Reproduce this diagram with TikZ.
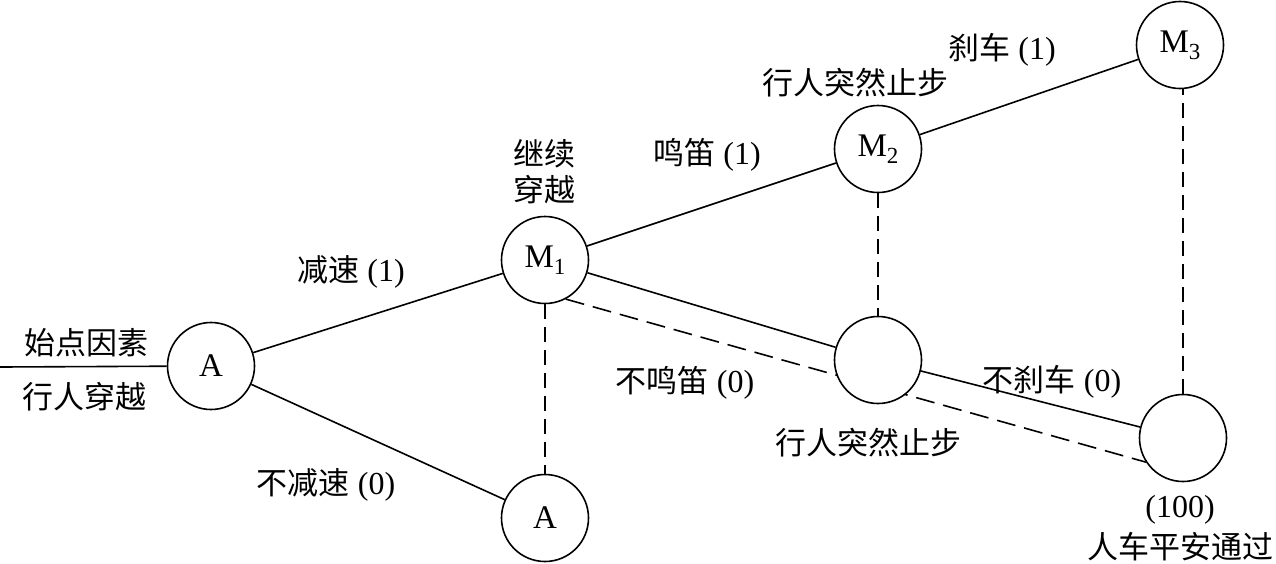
\documentclass[tikz,border=0pt]{standalone}
\usepackage{fontspec}
\setmainfont{Liberation Serif}
\newfontfamily\cjk{Noto Sans CJK SC}
\usetikzlibrary{backgrounds}
\newcommand\myzh[1]{{\fontsize{31}{36}\cjk #1}}
\newcommand\mysub[1]{\raisebox{-0.22em}{\fontsize{23}{23}\selectfont #1}}
\begin{document}
\begin{tikzpicture}[x=1pt,y=-1pt,
  circ/.style={circle, draw, line width=1.6pt, minimum size=87pt, inner sep=0pt, fill=white, font=\fontsize{33}{33}\selectfont},
  txt/.style={font=\fontsize{32}{36}\selectfont, inner sep=0pt, align=center},
  link/.style={line width=1.6pt},
  dlink/.style={line width=1.6pt, dash pattern=on 15pt off 8pt},
  dlong/.style={line width=1.6pt, dash pattern=on 19pt off 9pt}]
\useasboundingbox (0,0) rectangle (1276,563);
% circles
\node[circ] (A1) at (211,366) {A};
\node[circ] (M1) at (545,260) {M\mysub{1}};
\node[circ] (A2) at (545,518) {A};
\node[circ] (M2) at (878,149) {M\mysub{2}};
\node[circ] (N)  at (878,360) {};
\node[circ] (M3) at (1180,45) {M\mysub{3}};
\node[circ] (BR) at (1183,438) {};
\coordinate (start) at (0,367);
% connectors
\begin{scope}[on background layer]
\draw[link] (start) -- (A1);
\draw[link] (A1) -- (M1);
\draw[link] (A1) -- (A2);
\draw[link] (M1) -- (M2);
\draw[link] (M2) -- (M3);
\draw[link] (M1) -- (N);
\draw[link] (N) -- (BR);
\draw[dlong] (M1.-62) -- (BR.213);
\draw[dlink] (M1.south) -- (A2.north);
\draw[dlink] (M2.south) -- (N.north);
\draw[dlink] (BR.north) -- (BR.north |- M3.south);
\end{scope}
% labels
\node[txt] (t1) at (86,343) {\myzh{始点因素}};
\node[txt] (t2) at (84,397) {\myzh{行人穿越}};
\node[txt] (t3) at (351,272) {\myzh{减速} (1)};
\node[txt] (t4) at (326,485) {\myzh{不减速} (0)};
\node[txt] (t5) at (544,172) {\myzh{继续}\\\myzh{穿越}};
\node[txt] (t6) at (707,155) {\myzh{鸣笛} (1)};
\node[txt] (t7) at (685,383) {\myzh{不鸣笛} (0)};
\node[txt] (t8) at (855,83) {\myzh{行人突然止步}};
\node[txt] (t9) at (868,443) {\myzh{行人突然止步}};
\node[txt] (t10) at (1002,50) {\myzh{刹车} (1)};
\node[txt] (t11) at (1052,382) {\myzh{不刹车} (0)};
\node[txt] (t12) at (1180,510) {(100)};
\node[txt] (t13) at (1180,547) {\myzh{人车平安通过}};
\end{tikzpicture}
\end{document}
